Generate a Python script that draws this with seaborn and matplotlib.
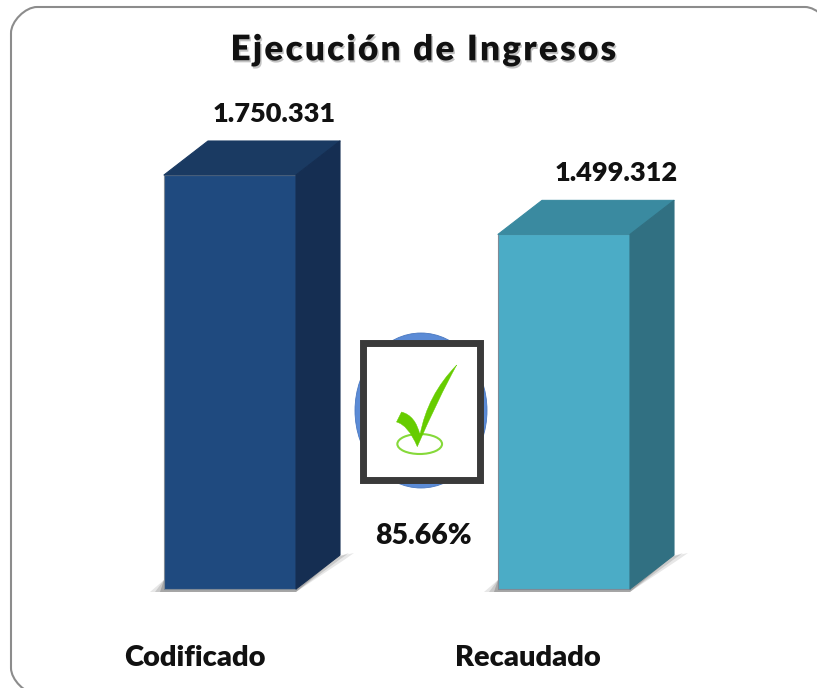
import matplotlib
matplotlib.use('Agg')
import matplotlib.pyplot as plt
import matplotlib.patheffects as pe
from matplotlib.patches import Polygon, Rectangle, Ellipse, PathPatch
from matplotlib.path import Path
from matplotlib.transforms import IdentityTransform
import pandas as pd
import seaborn as sns

categories = ['Codificado', 'Recaudado']
values = [1750331, 1499312]
value_labels = ['1.750.331', '1.499.312']
pct_label = '85.66%'
title = 'Ejecución de Ingresos'
front_colors = ['#1f4a7f', '#4bacc6']
top_colors = ['#1a3a62', '#3a8aa0']
side_colors = ['#152e52', '#317082']

W, H = 817, 688
BASE_Y = 589           # pixel row of the bar bottoms
PX_PER_VAL = 414 / values[0]
X0, STEP = 230, 334    # pixel column of first bar centre, spacing
BAR_W = 132 / STEP
DX, DY = 44, 34        # depth of the fake 3d


def px(x, y):
    return (x / W, 1 - y / H)


def round_rect(l, t, r, b, rad):
    # rounded rectangle in display pixels, y flipped from image rows
    k = rad * 0.45
    pts = [(l, t + rad), (l, t + rad - k), (l + rad - k, t), (l + rad, t),
           (r - rad, t), (r - rad + k, t), (r, t + rad - k), (r, t + rad),
           (r, b - rad), (r, b - rad + k), (r - rad + k, b), (r - rad, b),
           (l + rad, b), (l + rad - k, b), (l, b - rad + k), (l, b - rad), (l, t + rad)]
    codes = [Path.MOVETO] + [Path.CURVE4] * 3 + [Path.LINETO] + [Path.CURVE4] * 3 + [Path.LINETO] \
        + [Path.CURVE4] * 3 + [Path.LINETO] + [Path.CURVE4] * 3 + [Path.LINETO]
    return Path([(x, H - y) for x, y in pts], codes)


sns.set_theme(style='white')
plt.rcParams['font.family'] = ['Lato', 'DejaVu Sans']

fig = plt.figure(figsize=(W / 100, H / 100), dpi=100)
ax = fig.add_axes([0, 0, 1, 1])

df = pd.DataFrame({'cat': categories, 'val': values})
sns.barplot(data=df, x='cat', y='val', hue='cat', palette=front_colors, width=BAR_W,
            saturation=1, legend=False, ax=ax, zorder=3)

ax.set_xlim(-X0 / STEP, (W - X0) / STEP)
ax.set_ylim(-(H - BASE_Y) / PX_PER_VAL, BASE_Y / PX_PER_VAL)
ax.axis('off')

tr = ax.transAxes

# rounded frame, runs off the right and bottom edge
# white fill on purpose: agg clips unfilled curves badly at the canvas edge
ax.add_patch(PathPatch(round_rect(11, 7, 831, 694, 26), transform=IdentityTransform(),
                       fc='white', ec='#8c8c8c', lw=1.5, zorder=1))

bars = [p for p in ax.patches if isinstance(p, Rectangle) and p.get_height() > 0]
for i, bar in enumerate(bars):
    x_l = X0 + bar.get_x() * STEP
    x_r = x_l + 132
    y_b = BASE_Y
    y_t = BASE_Y - bar.get_height() * PX_PER_VAL
    bar.set_edgecolor('#7f8a96')
    bar.set_linewidth(0.8)
    bar.set_joinstyle('round')

    # soft shadow on the floor
    for grow, a in zip([14, 9, 4], [0.14, 0.20, 0.30]):
        ax.add_patch(Polygon([px(x_l - grow, y_b + 3), px(x_l, y_b - 9), px(x_r + DX, y_b - DY + 1),
                              px(x_r + DX + grow, y_b - DY - 2), px(x_r + DX + grow - 10, y_b - DY + 5),
                              px(x_r, y_b + 3)], closed=True, transform=tr,
                             fc='#555555', ec='none', alpha=a, zorder=2))

    ax.add_patch(Polygon([px(x_l, y_t), px(x_l + DX, y_t - DY), px(x_r + DX, y_t - DY), px(x_r, y_t)],
                         closed=True, transform=tr, fc=top_colors[i], ec=top_colors[i], lw=0.8,
                         joinstyle='round', zorder=3))
    ax.add_patch(Polygon([px(x_r, y_t), px(x_r + DX, y_t - DY), px(x_r + DX, y_b - DY), px(x_r, y_b)],
                         closed=True, transform=tr, fc=side_colors[i], ec=side_colors[i], lw=0.8,
                         joinstyle='round', zorder=3))

# value labels above the bars
label_pos = [(274, 114), (616, 173)]
for lab, (x, y) in zip(value_labels, label_pos):
    ax.text(*px(x, y), lab, transform=tr, ha='center', va='center', fontsize=19.5, fontweight='heavy',
            color='#111111', zorder=6)

for cat, x in zip(categories, [195, 528]):
    ax.text(*px(x, 658), cat, transform=tr, ha='center', va='center', fontsize=21, fontweight='heavy',
            color='#111111', zorder=6)

ax.text(*px(423, 536), pct_label, transform=tr, ha='center', va='center', fontsize=20.5, fontweight='heavy',
        color='#111111', zorder=6)

ttl = ax.text(*px(424, 50), '\u200a'.join(title), transform=tr, ha='center', va='center', fontsize=25.3,
              fontweight='heavy', color='#111111', zorder=6)
ttl.set_path_effects([pe.SimplePatchShadow(offset=(1, -1.5), shadow_rgbFace='#888888', alpha=0.5), pe.Normal()])

# badge with the check mark
ax.add_patch(Ellipse(px(421, 410.5), 132 / W, 155 / H, transform=tr, fc='#5b8bd6', ec='#4a78c0', lw=0.6, zorder=4))
ax.add_patch(Rectangle(px(362.5, 479.5), 117.5 / W, 137 / H, transform=tr, fc='white', ec='#3a3a3a', lw=5,
                       joinstyle='miter', zorder=5))
ax.add_patch(Ellipse(px(419.7, 444), 44.7 / W, 20 / H, transform=tr, fc='none', ec='#86d93a', lw=1.5, zorder=6))

check = [px(456.7, 365), px(438.3, 398.3), px(417.3, 446.7),
         px(408.3, 425), px(396.5, 422),
         px(401.5, 412),
         px(415.5, 415.5), px(420, 435),
         px(427.3, 395), px(456.7, 365)]
codes = [Path.MOVETO, Path.CURVE3, Path.CURVE3,
         Path.CURVE3, Path.CURVE3,
         Path.LINETO,
         Path.CURVE3, Path.CURVE3,
         Path.CURVE3, Path.CURVE3]
ax.add_patch(PathPatch(Path(check, codes), transform=tr, fc='#66cc00', ec='#66cc00', lw=0.3, zorder=7))

fig.savefig('out.png', dpi=100)
